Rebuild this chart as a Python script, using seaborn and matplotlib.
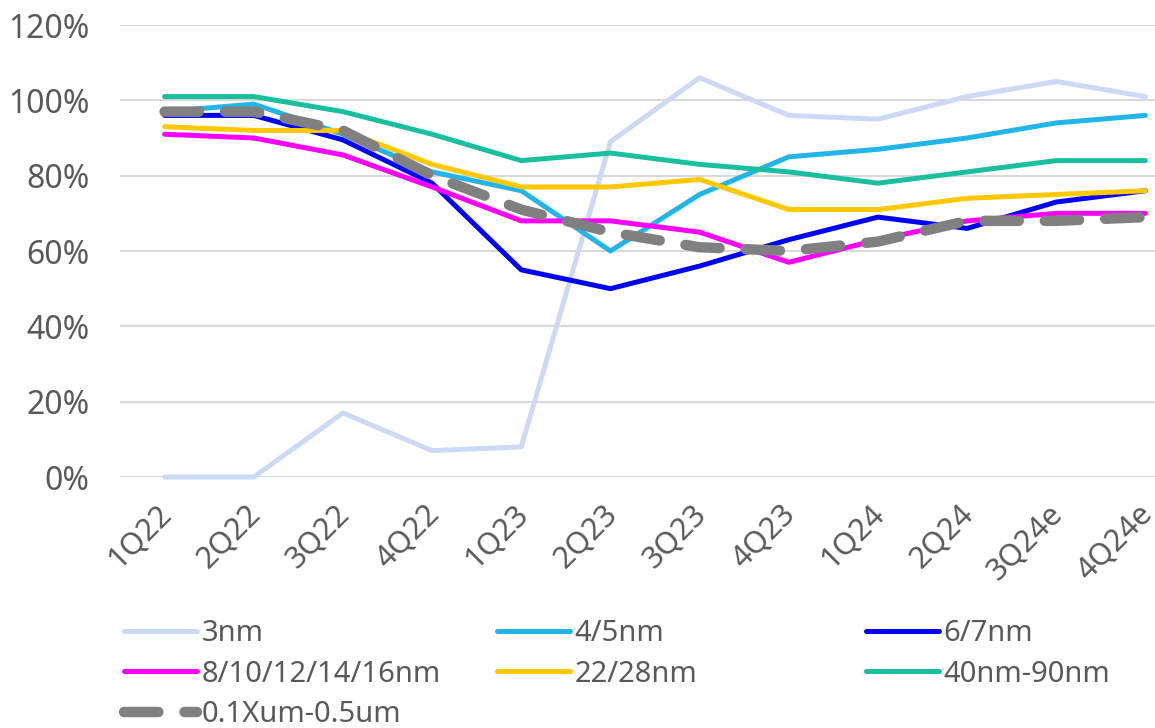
import numpy as np
import pandas as pd
import matplotlib
matplotlib.use("Agg")
import matplotlib.pyplot as plt
import matplotlib.transforms as mtransforms
import seaborn as sns

quarters = ["1Q22", "2Q22", "3Q22", "4Q22", "1Q23", "2Q23", "3Q23", "4Q23",
            "1Q24", "2Q24", "3Q24e", "4Q24e"]

nm3 = [0, 0, 17, 7, 8, 89, 106, 96, 95, 101, 105, 101]
nm45 = [97, 99, 91, 81, 76, 60, 75, 85, 87, 90, 94, 96]
nm67 = [96, 96, 89.5, 78, 55, 50, 56, 63, 69, 66, 73, 76]
nm8_16 = [91, 90, 85.5, 77, 68, 68, 65, 57, 63, 68, 70, 70]
nm22_28 = [93, 92, 92, 83, 77, 77, 79, 71, 71, 74, 75, 76]
nm40_90 = [101, 101, 97, 91, 84, 86, 83, 81, 78, 81, 84, 84]
um01_05 = [97, 97, 92, 80, 71, 65, 61, 60, 62.5, 68, 68, 69]

names = ["3nm", "4/5nm", "6/7nm", "8/10/12/14/16nm", "22/28nm", "40nm-90nm", "0.1Xum-0.5um"]
series = [nm3, nm45, nm67, nm8_16, nm22_28, nm40_90, um01_05]
colors = ["#CCDAF5", "#22B5E9", "#0000FF", "#FF00FF", "#FFC800", "#1ABF9F", "#808080"]

sns.set_theme(style="white")
plt.rcParams['font.family'] = ['Noto Sans', 'DejaVu Sans']
txt = "#595959"

fig = plt.figure(figsize=(11.55, 7.28), dpi=100)
ax = fig.add_axes([120 / 1155, (728 - 477) / 728, 1070 / 1155, 452 / 728])

x = np.arange(len(quarters))
handles = {}
for name, vals, c in zip(names, series, colors):
    df = pd.DataFrame({"x": x, "y": np.array(vals) / 100})
    if name == "0.1Xum-0.5um":
        sns.lineplot(data=df, x="x", y="y", ax=ax, color=c, linewidth=7.5,
                     zorder=5, clip_on=False)
        ln = ax.lines[-1]
        ln.set_dashes((3.3, 2.5))
        ln.set_dash_capstyle("round")
    else:
        sns.lineplot(data=df, x="x", y="y", ax=ax, color=c, linewidth=3.6,
                     clip_on=False)
        ln = ax.lines[-1]
        ln.set_solid_capstyle("round")
    handles[name] = ln

ax.set_xlim(-0.5, 11.5)
ax.set_ylim(0, 1.2)
ax.set_yticks(np.arange(0, 1.21, 0.2))
ax.set_yticklabels([f"{int(round(v * 100))}%" for v in np.arange(0, 1.21, 0.2)])
ax.set_xticks(x)
ax.set_xticklabels(quarters, rotation=45, ha="right", va="top", rotation_mode="anchor")
ax.set_xlabel("")
ax.set_ylabel("")
ax.yaxis.grid(True, color="#D9D9D9", linewidth=1.5)
ax.set_axisbelow(True)
for s in ax.spines.values():
    s.set_visible(False)
ax.tick_params(axis="y", length=0, pad=22, labelsize=23, labelcolor=txt)
ax.tick_params(axis="x", length=0, pad=16, labelsize=22, labelcolor=txt)

# nudge the rotated labels a bit left so the last one stays in the picture
shift = mtransforms.ScaledTranslation(-8 / 100, 0, fig.dpi_scale_trans)
for lab in ax.get_xticklabels():
    lab.set_transform(lab.get_transform() + shift)

cols = [(["3nm", "8/10/12/14/16nm", "0.1Xum-0.5um"], 124),
        (["4/5nm", "22/28nm"], 497),
        (["6/7nm", "40nm-90nm"], 866)]
for labels, xpix in cols:
    leg = fig.legend([handles[n] for n in labels], labels, loc="upper left",
                     bbox_to_anchor=(xpix / 1155, 1 - 619 / 728), frameon=False,
                     fontsize=21, handlelength=2.5, handletextpad=0.15,
                     labelspacing=0.4, borderaxespad=0, borderpad=0)
    for t in leg.get_texts():
        t.set_color(txt)

fig.savefig("out.png", dpi=100)
